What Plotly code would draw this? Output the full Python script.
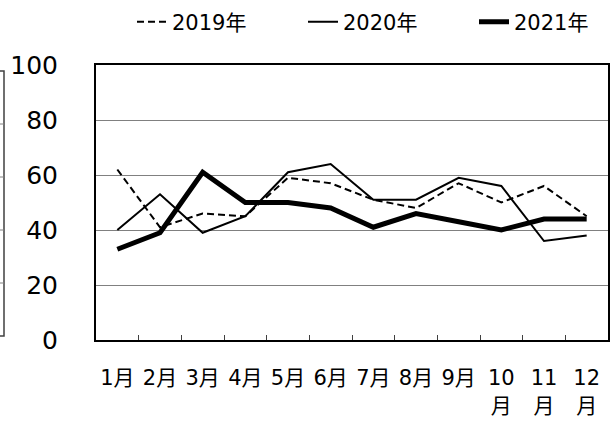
import plotly.graph_objects as go

months = ["1月", "2月", "3月", "4月", "5月", "6月", "7月", "8月", "9月", "10<br>月", "11<br>月", "12<br>月"]
series_names = ["2019年", "2020年", "2021年"]
v2019 = [62, 41, 46, 45, 59, 57, 51, 48, 57, 50, 56, 45]
v2020 = [40, 53, 39, 45, 61, 64, 51, 51, 59, 56, 36, 38]
v2021 = [33, 39, 61, 50, 50, 48, 41, 46, 43, 40, 44, 44]
y_ticks = [0, 20, 40, 60, 80, 100]

FONT = "DejaVu Sans, Verdana, Noto Sans CJK JP, sans-serif"

fig = go.Figure()
fig.add_trace(go.Scatter(x=months, y=v2019, name=series_names[0], mode="lines",
                         line=dict(color="black", width=2, dash="7px,4px")))
fig.add_trace(go.Scatter(x=months, y=v2020, name=series_names[1], mode="lines",
                         line=dict(color="black", width=2)))
fig.add_trace(go.Scatter(x=months, y=v2021, name=series_names[2], mode="lines",
                         line=dict(color="black", width=5)))

W, H = 611, 423
L, R, T, B = 96, 3, 65, 83
pw, ph = W - L - R, H - T - B

def px_x(px):
    return (px - L) / pw

def px_y(py):
    return (H - B - py) / ph

# fragment of neighbouring chart at the far left edge
shapes = [dict(type="rect", xref="paper", yref="paper",
               x0=px_x(-10), x1=px_x(4), y0=px_y(336), y1=px_y(71),
               line=dict(color="#404040", width=1.5))]
for py in [124, 177, 230, 283]:
    shapes.append(dict(type="line", xref="paper", yref="paper",
                       x0=px_x(-10), x1=px_x(4), y0=px_y(py), y1=px_y(py),
                       line=dict(color="#808080", width=1)))

fig.update_layout(
    width=W, height=H,
    margin=dict(l=L, r=R, t=T, b=B, autoexpand=False),
    paper_bgcolor="white", plot_bgcolor="white",
    font=dict(family=FONT, color="black", size=20),
    showlegend=True,
    legend=dict(orientation="h", x=px_x(132), y=px_y(22), xanchor="left", yanchor="middle",
                font=dict(size=21, family=FONT), entrywidth=126, itemwidth=30,
                bgcolor="rgba(0,0,0,0)", tracegroupgap=0),
    shapes=shapes,
    xaxis=dict(type="category", showline=True, mirror=True, linecolor="black", linewidth=2,
               ticks="inside", tickson="boundaries", ticklen=5, tickcolor="#404040",
               showgrid=False, tickfont=dict(size=21, family=FONT), ticklabelstandoff=18,
               tickangle=0, range=[-0.5, 11.5]),
    yaxis=dict(range=[0, 100], tickvals=y_ticks, showline=True, mirror=True,
               linecolor="black", linewidth=2, showgrid=True, gridcolor="#808080", gridwidth=1,
               ticks="", tickfont=dict(size=25, family=FONT), ticklabelstandoff=31,
               zeroline=False),
)

fig.write_html("out.html", config={"displayModeBar": False},
               post_script="document.body.style.margin='0';document.body.style.overflow='hidden';")
